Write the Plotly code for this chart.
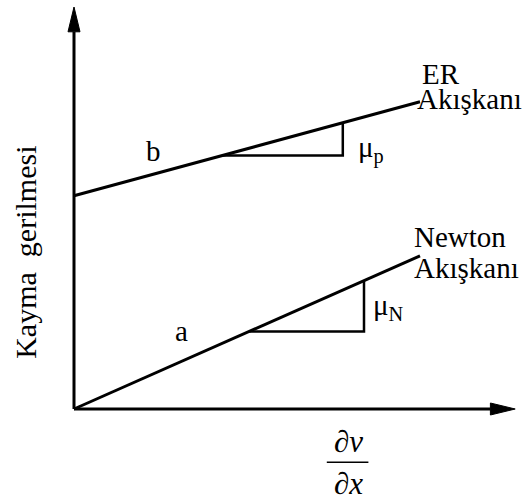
import plotly.graph_objects as go

# Shear stress vs. shear rate: Newtonian fluid and ER fluid (Bingham-like)
shear_rate = [0.0, 8.65]          # start / end of both flow curves
er_stress = [5.33, 7.68]          # ER fluid: yield stress b, then slope mu_p
newton_stress = [0.0, 3.83]       # Newtonian fluid: through origin, slope mu_N
er_slope_x = [3.70, 6.72]         # extent of slope triangle on ER curve
newton_slope_x = [4.38, 7.25]     # extent of slope triangle on Newton curve
x_axis_len = 11.03
y_axis_len = 10.05

FONT = "Liberation Serif"
INK = "black"


def on_line(xs, ys, x):
    return ys[0] + (ys[1] - ys[0]) * (x - xs[0]) / (xs[1] - xs[0])


def slope_triangle(xs, ys, tx):
    y0 = on_line(xs, ys, tx[0])
    y1 = on_line(xs, ys, tx[1])
    return [tx[0], tx[1], tx[1]], [y0, y0, y1]


fig = go.Figure()

# axes with filled arrowheads
head_len, head_half = 0.62, 0.15
fig.add_trace(go.Scatter(x=[0, x_axis_len - head_len], y=[0, 0], mode="lines",
                         line=dict(color=INK, width=3)))
fig.add_trace(go.Scatter(x=[0, 0], y=[0, y_axis_len - head_len], mode="lines",
                         line=dict(color=INK, width=3)))
fig.add_trace(go.Scatter(
    x=[x_axis_len, x_axis_len - head_len, x_axis_len - head_len, x_axis_len],
    y=[0, head_half, -head_half, 0], mode="lines", fill="toself",
    fillcolor=INK, line=dict(color=INK, width=1)))
fig.add_trace(go.Scatter(
    x=[0, head_half, -head_half, 0],
    y=[y_axis_len, y_axis_len - head_len, y_axis_len - head_len, y_axis_len],
    mode="lines", fill="toself", fillcolor=INK, line=dict(color=INK, width=1)))

# flow curves
for ys in (er_stress, newton_stress):
    fig.add_trace(go.Scatter(x=shear_rate, y=ys, mode="lines",
                             line=dict(color=INK, width=3)))

# slope triangles
for ys, tx in ((er_stress, er_slope_x), (newton_stress, newton_slope_x)):
    px, py = slope_triangle(shear_rate, ys, tx)
    fig.add_trace(go.Scatter(x=px, y=py, mode="lines",
                             line=dict(color=INK, width=2.5)))

# fraction bar for d(nu)/dx
fig.add_trace(go.Scatter(x=[6.32, 7.36], y=[-1.33, -1.33], mode="lines",
                         line=dict(color=INK, width=1.5)))


def label(text, x, y, size=29, xanchor="left", angle=0):
    fig.add_annotation(x=x, y=y, text=text, showarrow=False, xanchor=xanchor,
                       yanchor="middle", textangle=angle,
                       font=dict(family=FONT, size=size, color=INK))


label("ER", 8.64, 8.38)
label("Akışkanı", 8.52, 7.75)
label("Newton", 8.44, 4.3)
label("Akışkanı", 8.44, 3.52)
label("b", 1.74, 6.45)
label("a", 2.48, 1.95)
label("μ<sub>p</sub>", 7.06, 6.5)
label("μ<sub>N</sub>", 7.43, 2.55)
label("Kayma\u00a0\u00a0gerilmesi", -1.22, 3.91, size=30, angle=-90,
      xanchor="center")
label("<i>∂ν</i>", 6.86, -0.8, size=31, xanchor="center")
label("<i>∂x</i>", 6.86, -1.86, size=31, xanchor="center")

fig.update_layout(
    width=524, height=501, margin=dict(l=0, r=0, t=0, b=0),
    paper_bgcolor="white", plot_bgcolor="white", showlegend=False,
    xaxis=dict(range=[-1.85, 11.25], visible=False, fixedrange=True),
    yaxis=dict(range=[-2.3, 10.225], visible=False, fixedrange=True),
)

fig.write_html("out.html")
